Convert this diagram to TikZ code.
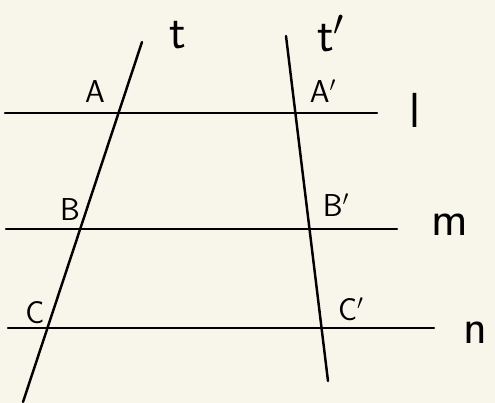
\documentclass[tikz,border=0pt]{standalone}
\usepackage{tikz}
\usepackage{xcolor}
\definecolor{paper}{RGB}{248,246,235}

\begin{document}
\begin{tikzpicture}[line width=1.4pt, line cap=round,
  pt/.style={font=\sffamily\fontsize{18}{20}\selectfont},
  ln/.style={font=\sffamily\fontsize{28}{30}\selectfont}]
  \fill[paper] (0,0) rectangle (9.9,8.06);
  \useasboundingbox (0,0) rectangle (9.9,8.06);
  % parallel lines l, m, n
  \coordinate (l1) at (0.10,5.80); \coordinate (l2) at (7.54,5.80);
  \coordinate (m1) at (0.12,3.48); \coordinate (m2) at (7.94,3.48);
  \coordinate (n1) at (0.16,1.50); \coordinate (n2) at (8.68,1.50);
  % transversals t, t'
  \coordinate (t1) at (2.84,7.22); \coordinate (t2) at (0.46,0.02);
  \coordinate (s1) at (5.72,7.34); \coordinate (s2) at (6.56,0.44);
  \draw (l1) -- (l2);
  \draw (m1) -- (m2);
  \draw (n1) -- (n2);
  \draw (t1) -- (t2);
  \draw (s1) -- (s2);
  \node[ln] (tlab) at (3.56,7.36) {t};
  \node[ln] (slab) at (6.62,7.38) {t$'$};
  \node[ln] (llab) at (8.30,5.86) {l};
  \node[ln] (mlab) at (9.00,3.56) {m};
  \node[ln] (nlab) at (9.50,1.40) {n};
  \node[pt] (A)  at (1.90,6.22) {A};
  \node[pt] (A') at (6.46,6.24) {A$'$};
  \node[pt] (B)  at (1.40,3.86) {B};
  \node[pt] (B') at (6.72,3.96) {B$'$};
  \node[pt] (C)  at (0.70,1.80) {C};
  \node[pt] (C') at (7.02,1.88) {C$'$};
\end{tikzpicture}
\end{document}
